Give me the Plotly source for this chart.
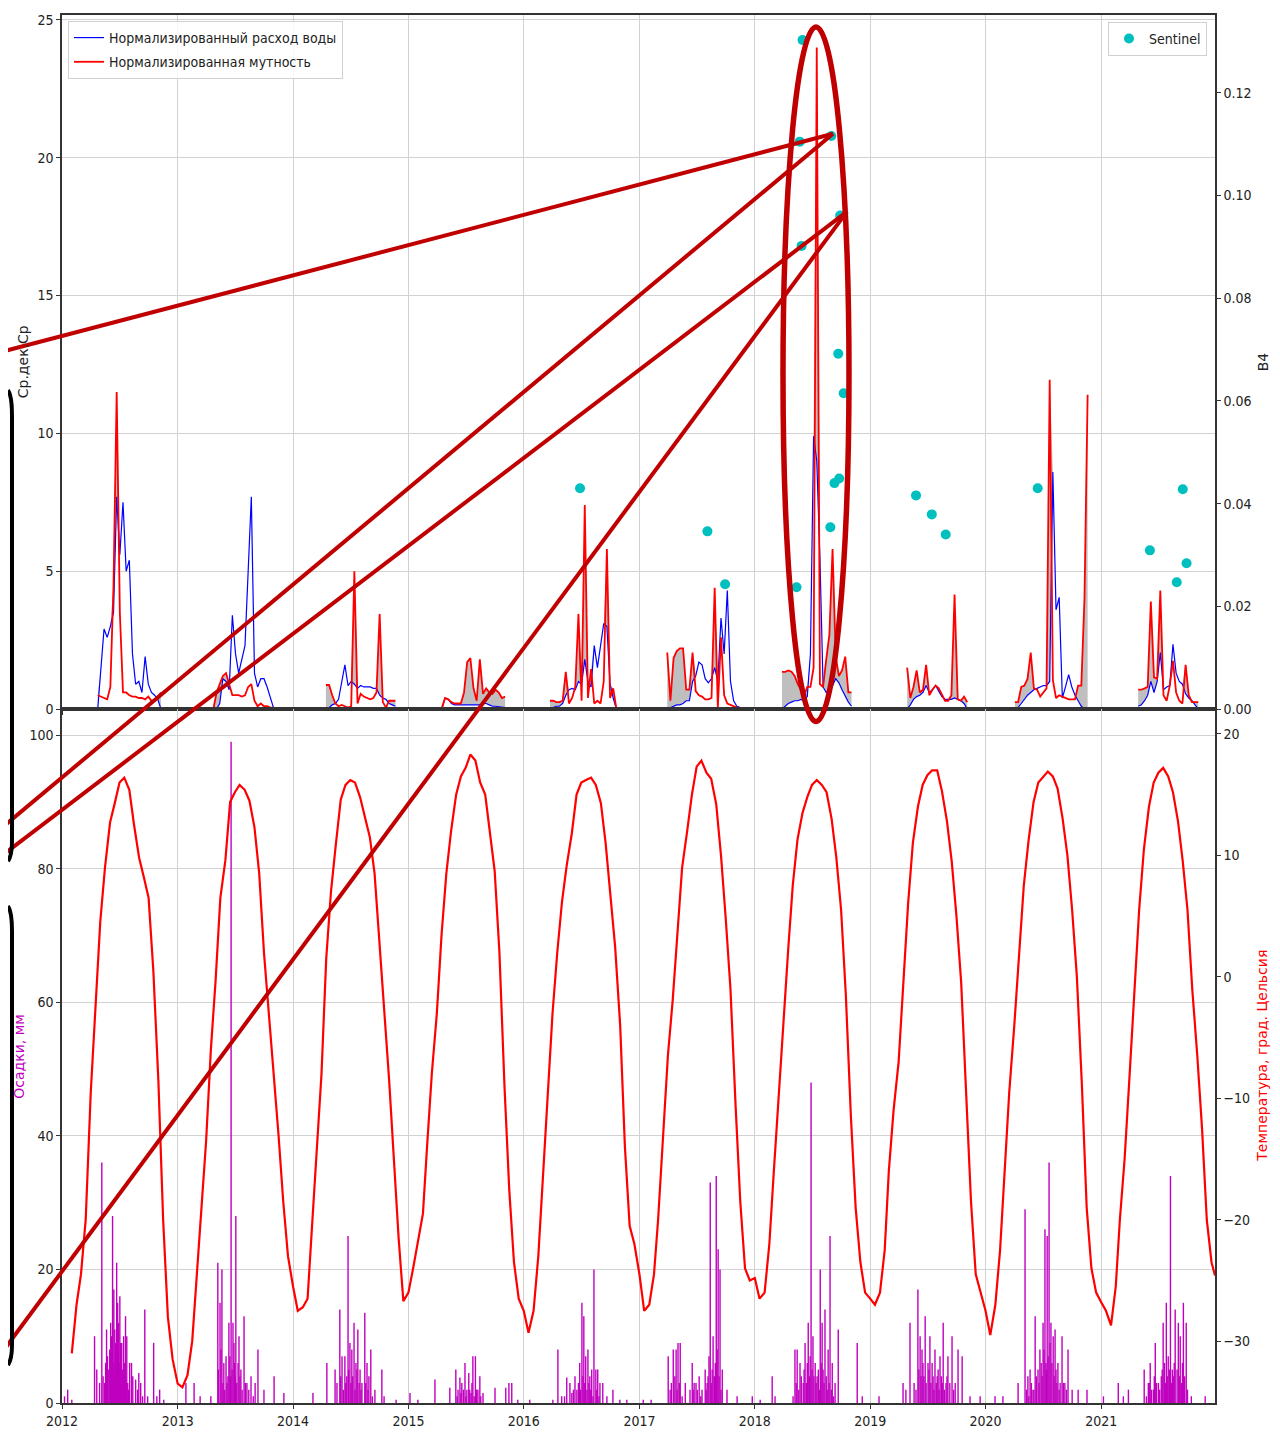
import numpy as np
import pandas as pd
import plotly.graph_objects as go

# ---------------- top panel: normalized discharge (blue) & turbidity (red), 10-day steps
season_start = ["2012-04-23", "2013-04-24", "2014-04-15", "2015-04-17", "2016-03-24",
                "2017-03-30", "2018-03-28", "2019-04-28", "2020-04-03", "2021-04-28"]

flow_2012 = [0.0, 1.5, 2.9, 2.6, 3.0, 3.5, 7.7, 5.6, 7.5, 5.0, 5.4, 2.0, 0.9, 1.0, 0.6, 1.9, 0.9, 0.6, 0.5, 0.35, 0.0]
turb_2012 = [0.5, 0.45, 0.4, 0.35, 0.8, 4.5, 11.5, 3.5, 0.6, 0.6, 0.5, 0.45, 0.45, 0.4, 0.4, 0.35, 0.45, 0.3, 0.3, 0.45, 0.6]
flow_2013 = [0.0, 0.0, 0.2, 1.1, 1.0, 0.7, 3.4, 2.0, 1.3, 1.8, 2.3, 5.0, 7.7, 1.3, 0.8, 1.1, 1.1, 0.8, 0.4, 0.05, 0.0]
turb_2013 = [0.0, 0.6, 0.9, 1.2, 1.3, 0.9, 0.5, 0.5, 0.5, 0.45, 0.5, 0.8, 0.9, 0.3, 0.1, 0.2, 0.1, 0.1, 0.05, 0.05, 0.0]
flow_2014 = [0.0, 0.05, 0.15, 0.2, 0.35, 1.0, 1.6, 0.85, 1.0, 0.9, 0.75, 0.85, 0.8, 0.8, 0.8, 0.75, 0.75, 0.5, 0.4, 0.35, 0.2, 0.15, 0.1]
turb_2014 = [0.87, 0.87, 0.5, 0.2, 0.1, 0.15, 0.1, 0.05, 0.1, 5.0, 0.2, 0.55, 0.45, 0.4, 0.35, 0.4, 0.6, 3.45, 0.25, 0.05, 0.3, 0.3, 0.3]
flow_2015 = [0.0, 0.4, 0.35, 0.2, 0.15, 0.15, 0.15, 0.15, 0.15, 0.15, 0.15, 0.15, 0.15, 0.2, 0.2, 0.15, 0.1, 0.1, 0.08, 0.05, 0.05]
turb_2015 = [0.05, 0.4, 0.35, 0.25, 0.2, 0.2, 0.2, 0.6, 1.7, 1.85, 0.75, 0.3, 1.8, 0.55, 0.75, 0.6, 0.55, 0.7, 0.6, 0.4, 0.45]
flow_2016 = [0.05, 0.05, 0.1, 0.1, 0.2, 0.5, 0.7, 0.75, 0.7, 1.0, 0.9, 1.8, 1.0, 0.8, 2.3, 1.5, 2.3, 3.1, 3.0, 0.9, 0.4, 0.0]
turb_2016 = [0.3, 0.3, 0.25, 0.25, 0.3, 1.35, 0.2, 0.4, 0.8, 3.45, 0.3, 7.4, 0.4, 1.45, 0.2, 0.3, 0.2, 1.0, 5.8, 0.4, 0.75, 0.0]
flow_2017 = [0.0, 0.05, 0.1, 0.15, 0.15, 0.2, 0.3, 0.3, 1.0, 1.2, 1.7, 1.6, 1.1, 0.95, 1.1, 1.5, 1.0, 3.3, 2.0, 4.3, 1.0, 0.3, 0.1, 0.05]
turb_2017 = [2.05, 0.3, 1.85, 2.1, 2.2, 2.2, 0.7, 0.7, 2.05, 0.65, 0.5, 0.45, 0.35, 0.35, 0.4, 4.4, 0.05, 2.6, 0.5, 0.2, 0.15, 0.1, 0.05, 0.05]
flow_2018 = [0.0, 0.1, 0.2, 0.25, 0.3, 0.3, 0.35, 0.3, 0.45, 2.0, 9.9, 9.0, 5.5, 0.8, 0.6, 0.7, 0.85, 1.1, 0.95, 0.7, 0.45, 0.25, 0.1]
turb_2018 = [1.35, 1.35, 1.4, 1.35, 1.2, 0.9, 0.7, 0.5, 0.8, 0.8, 1.5, 24.0, 0.9, 0.8, 1.8, 2.7, 5.8, 1.9, 1.2, 1.4, 1.9, 0.6, 0.6]
flow_2019 = [0.0, 0.15, 0.35, 0.45, 0.5, 0.6, 0.85, 0.6, 0.7, 0.85, 0.65, 0.45, 0.35, 0.35, 0.35, 0.4, 0.35, 0.3, 0.2, 0.0]
turb_2019 = [1.5, 0.4, 0.8, 1.4, 0.6, 0.7, 1.6, 0.5, 0.7, 0.85, 0.75, 0.5, 0.3, 0.3, 0.5, 4.15, 0.35, 0.3, 0.45, 0.25]
flow_2020 = [0.0, 0.05, 0.2, 0.35, 0.5, 0.6, 0.7, 0.75, 0.8, 0.85, 0.85, 1.0, 8.6, 3.6, 4.05, 0.4, 0.8, 1.25, 0.8, 0.5, 0.3, 0.1, 0.0, 0.0]
turb_2020 = [0.25, 0.25, 0.8, 0.85, 1.1, 2.05, 0.75, 0.7, 0.45, 0.6, 0.75, 11.95, 1.05, 0.4, 0.5, 0.45, 0.4, 0.35, 0.35, 0.35, 0.85, 0.85, 4.0, 11.4]
flow_2021 = [0.1, 0.15, 0.3, 0.5, 1.0, 0.6, 1.0, 2.05, 0.7, 0.8, 0.85, 2.35, 1.3, 1.0, 0.9, 0.55, 0.4, 0.3, 0.15, 0.0]
turb_2021 = [0.7, 0.7, 0.75, 0.8, 3.9, 1.15, 1.1, 4.3, 0.5, 0.3, 0.85, 1.75, 0.6, 0.3, 0.2, 1.6, 0.5, 0.25, 0.25, 0.25]

flows = [flow_2012, flow_2013, flow_2014, flow_2015, flow_2016, flow_2017, flow_2018, flow_2019, flow_2020, flow_2021]
turbs = [turb_2012, turb_2013, turb_2014, turb_2015, turb_2016, turb_2017, turb_2018, turb_2019, turb_2020, turb_2021]

# ---------------- Sentinel B4 reflectance
sentinel_dates = ["2016-06-27", "2017-08-04", "2017-09-29", "2018-05-13", "2018-05-23", "2018-05-29",
                  "2018-06-01", "2018-08-28", "2018-08-31", "2018-09-10", "2018-09-22", "2018-09-25",
                  "2018-09-28", "2018-10-09", "2019-05-26", "2019-07-15", "2019-08-28", "2020-06-14",
                  "2021-06-04", "2021-08-28", "2021-09-16", "2021-09-28"]
sentinel_b4 = [0.0430, 0.0346, 0.0243, 0.0237, 0.1105, 0.0902,
               0.1303, 0.0354, 0.1116, 0.0440, 0.0692, 0.0449,
               0.0961, 0.0615, 0.0416, 0.0379, 0.0340, 0.0430,
               0.0309, 0.0247, 0.0428, 0.0284]

# ---------------- temperature (1st and 16th of each month), deg C
t2012 = [-31.0, -27.0, -24.5, -20.0, -9.5, -2.5, 4.5, 9.0, 12.7, 14.3, 16.0, 16.4, 15.4, 12.5, 9.8, 8.2, 6.5, 0.5, -8.6, -20.0, -28.0, -31.5]
t2013 = [-33.5, -33.8, -32.8, -30.0, -25.5, -19.5, -13.5, -6.0, -0.3, 6.5, 9.6, 14.4, 15.2, 15.8, 15.4, 14.5, 12.3, 8.5, 2.0, -2.8, -7.5, -13.0, -18.5, -23.0]
t2014 = [-25.5, -27.5, -27.2, -26.5, -21.0, -15.0, -8.0, 1.5, 7.0, 10.8, 14.6, 15.8, 16.2, 16.0, 14.8, 13.2, 11.5, 8.5, 3.0, -3.0, -8.5, -15.0, -21.5, -26.7]
t2015 = [-26.0, -24.0, -21.5, -19.5, -14.0, -8.0, -3.0, 3.5, 8.5, 12.0, 15.0, 16.5, 17.2, 18.3, 17.8, 16.0, 15.0, 12.0, 8.7, 2.0, -9.0, -17.5, -23.5, -26.5]
t2016 = [-27.5, -29.3, -27.5, -23.0, -17.0, -10.0, -3.0, 2.0, 6.2, 9.2, 11.8, 15.0, 16.0, 16.2, 16.4, 15.8, 14.3, 11.0, 7.0, 2.5, -4.0, -14.0, -20.5, -22.0]
t2017 = [-24.5, -27.5, -27.0, -24.5, -20.0, -13.0, -6.5, -2.0, 3.5, 9.0, 12.0, 15.0, 17.3, 17.8, 16.8, 16.3, 14.2, 10.0, 4.8, -1.0, -10.5, -18.5, -24.0, -25.0]
t2018 = [-24.8, -26.5, -26.0, -22.0, -16.5, -10.5, -3.5, 2.0, 7.5, 11.3, 13.5, 14.8, 15.8, 16.2, 15.8, 15.2, 13.0, 9.8, 5.5, -1.5, -11.5, -19.0, -23.5, -26.0]
t2019 = [-26.5, -27.0, -26.0, -22.5, -16.0, -11.0, -7.0, -0.5, 6.0, 11.0, 14.0, 15.8, 16.6, 17.0, 17.0, 15.3, 12.8, 9.5, 5.0, -0.5, -10.0, -18.5, -24.5, -26.0]
t2020 = [-27.5, -29.5, -27.0, -22.5, -16.0, -9.5, -4.0, 1.5, 7.5, 11.2, 14.4, 16.0, 16.5, 16.9, 16.5, 15.5, 13.0, 10.0, 5.5, 0.0, -9.0, -19.0, -24.0, -26.0]
t2021 = [-26.8, -27.5, -28.7, -25.5, -20.0, -15.0, -8.0, -1.0, 5.5, 10.5, 14.0, 16.0, 16.8, 17.2, 16.5, 15.2, 12.8, 9.5, 5.5, -1.0, -6.5, -12.5, -20.0, -23.5]
temp_end_date, temp_end_value = "2021-12-27", -24.6
temps = [t2012, t2013, t2014, t2015, t2016, t2017, t2018, t2019, t2020, t2021]

# ---------------- precipitation, mm (day of year, amount)
rain_day_2012 = [9, 19, 32, 104, 111, 127, 136, 139, 142, 149, 152, 155, 161, 165, 168, 171, 174, 177, 180, 184, 187, 190, 193, 196, 199, 202, 206, 209, 215, 221, 234, 244, 250, 263, 272, 291, 301, 310, 323,
                 120, 131, 145, 158, 163, 166, 170, 173, 176, 182, 186, 192, 198, 204, 212, 225, 240, 256]
rain_mm_2012 = [1, 2, 0.5, 10, 5, 36, 3, 6, 11, 5, 8, 12, 28, 17, 11, 9, 21, 15, 12, 16, 8, 9, 5, 10, 4, 13, 10, 3, 6, 6, 3.5, 4.5, 3, 14, 1, 9, 1, 2, 0.5,
                3, 4, 7, 10, 6, 4, 7, 5, 3, 6, 9, 4, 6, 3, 2, 4, 2, 1]
rain_day_2013 = [27, 53, 72, 106, 128, 135, 141, 147, 154, 160, 163, 170, 176, 179, 185, 192, 195, 201, 211, 220, 233, 246, 255, 274, 306, 337,
                 130, 138, 144, 150, 157, 166, 168, 173, 181, 183, 188, 198, 205, 215, 226, 240]
rain_mm_2013 = [3, 3, 1, 1, 21, 15, 20, 6, 7, 4, 12, 99, 12, 9, 28, 6, 10, 5, 13, 3, 4, 3, 8, 2, 4, 1.5,
                5, 8, 3, 2, 3, 7, 4, 5, 6, 4, 3, 4, 2, 3, 2, 1]
rain_day_2014 = [64, 108, 134, 149, 156, 165, 171, 175, 181, 187, 194, 200, 206, 213, 219, 228, 235, 241, 247, 260, 282, 289, 327,
                 140, 152, 160, 168, 177, 184, 190, 197, 203, 210, 216, 231, 238, 252]
rain_mm_2014 = [1.5, 6, 5, 14, 7, 7, 4, 25, 9, 8, 12, 6, 11, 5, 3, 13.5, 6, 4, 8, 2, 5, 1, 0.5,
                3, 4, 2, 3, 5, 3, 4, 2, 5, 3, 2, 3, 2, 1]
rain_day_2015 = [6, 31, 85, 132, 151, 158, 164, 170, 180, 186, 192, 199, 205, 213, 221, 227, 237, 275, 309, 319, 328, 347,
                 155, 167, 175, 183, 195, 202, 209, 217, 230]
rain_mm_2015 = [1.5, 0.5, 3.5, 2.3, 5, 2, 3.8, 3, 6, 2, 4.5, 1.5, 7, 7, 2, 4, 1.5, 2.3, 2.3, 3, 3, 0.5,
                1, 1.5, 2, 1, 2, 3, 1, 2, 1]
rain_day_2016 = [20, 93, 109, 121, 137, 147, 153, 163, 169, 178, 185, 191, 197, 204, 210, 216, 223, 229, 235, 242, 251, 264, 283, 305, 327,
                 130, 158, 174, 181, 188, 194, 201, 207, 213, 220, 232, 239]
rain_mm_2016 = [0.5, 0.5, 8, 1, 3.8, 3, 1.5, 4, 2, 6, 15, 13, 7, 8, 4, 5, 20, 5, 5, 3, 3, 1, 2, 0.5, 0.5,
                1, 2, 3, 2, 4, 3, 2, 3, 2, 1, 2, 1]
rain_day_2017 = [13, 38, 92, 98, 108, 117, 123, 130, 146, 161, 168, 174, 180, 190, 199, 209, 215, 221, 225, 234, 244, 250, 256, 263, 278, 310, 358,
                 102, 113, 120, 127, 136, 171, 184, 195, 212, 218, 228, 231, 238, 241, 247, 253, 259]
rain_mm_2017 = [0.5, 0.5, 7, 2, 8, 8, 9, 9, 3, 2, 6, 3, 3, 4, 2, 5, 3, 7, 33, 10, 34, 23, 20, 5, 2, 1, 1,
                3, 4, 2, 3, 1, 2, 2, 1, 2, 4, 3, 5, 4, 6, 8, 4, 2]
rain_day_2018 = [18, 56, 65, 122, 128, 135, 144, 154, 160, 170, 179, 185, 192, 198, 208, 214, 223, 233, 239, 246, 255, 265, 325, 341,
                 132, 140, 148, 157, 164, 167, 174, 176, 182, 188, 195, 202, 205, 211, 217, 220, 227, 230, 236, 243, 250]
rain_mm_2018 = [0.5, 4, 1, 1, 8, 8, 6, 3, 9, 12, 48, 10, 6, 4, 20, 12, 14, 8, 25, 6, 3, 11, 9, 1,
                3, 2, 4, 5, 3, 6, 4, 7, 5, 4, 3, 5, 2, 6, 5, 3, 4, 2, 3, 2, 1]
rain_day_2019 = [29, 105, 114, 127, 140, 152, 159, 165, 171, 175, 184, 190, 200, 206, 216, 222, 232, 241, 247, 260, 270, 279, 292, 317, 349,
                 146, 155, 162, 168, 178, 187, 193, 197, 203, 210, 213, 219, 226, 229, 236, 244, 253, 265]
rain_mm_2019 = [1, 3, 2, 12, 3, 17, 10, 8, 4, 13, 6, 10, 4, 8, 5, 7, 12, 3, 7, 10, 3, 8, 7, 1, 1,
                2, 5, 4, 6, 3, 5, 3, 6, 2, 3, 4, 2, 4, 3, 2, 4, 3, 2]
rain_day_2020 = [31, 56, 104, 126, 135, 142, 151, 158, 167, 173, 183, 189, 196, 202, 208, 215, 221, 230, 237, 243, 252, 262, 275, 294, 322,
                 131, 138, 146, 154, 162, 170, 177, 180, 186, 192, 194, 199, 205, 211, 218, 224, 227, 234, 247, 257]
rain_mm_2020 = [1, 1, 3, 29, 4, 5, 2, 13, 5, 8, 12, 26, 25, 36, 12, 10, 11, 6, 3, 10, 3, 8, 2, 2, 2,
                2, 1, 3, 2, 4, 3, 6, 4, 8, 6, 5, 7, 9, 6, 4, 5, 3, 2, 3, 2]
rain_day_2021 = [8, 55, 71, 87, 137, 150, 156, 166, 172, 182, 191, 197, 207, 213, 220, 226, 235, 245, 251, 261, 270, 286, 330,
                 144, 153, 160, 169, 176, 186, 194, 201, 204, 210, 217, 223, 229, 232, 241, 248, 255, 258, 265, 274]
rain_mm_2021 = [1, 3, 1, 2, 5, 3, 6, 2, 9, 3, 4, 12, 15, 7, 34, 5, 14, 12, 10, 15, 12, 1, 1,
                1, 3, 2, 4, 3, 2, 5, 6, 3, 4, 5, 3, 4, 6, 5, 4, 3, 6, 4, 2]

rain_days = [rain_day_2012, rain_day_2013, rain_day_2014, rain_day_2015, rain_day_2016,
             rain_day_2017, rain_day_2018, rain_day_2019, rain_day_2020, rain_day_2021]
rain_mms = [rain_mm_2012, rain_mm_2013, rain_mm_2014, rain_mm_2015, rain_mm_2016,
            rain_mm_2017, rain_mm_2018, rain_mm_2019, rain_mm_2020, rain_mm_2021]
years = list(range(2012, 2022))

# ---------------- styling
OFF = 8                       # default page (body) margin of the html page
W, H = 1280 - OFF, 1440 - OFF
ML, MR, MT, MB = 62 - OFF, 65, 12 - OFF, 37
PLOT_W, PLOT_H = W - ML - MR, H - MT - MB
FONT = "DejaVu Sans Condensed, Liberation Sans Narrow, DejaVu Sans, sans-serif"
BLUE, RED, CYAN, MAG, GREY = "#0000ff", "#ff0000", "#00bfbf", "#bf00bf", "#bfbfbf"
ANN_RED = "#c00000"
XR = ["2012-01-01", "2021-12-27"]


def P(px, py):
    """screen pixel -> paper coordinates (for overlay drawings only)"""
    return (px - OFF - ML) / PLOT_W, (OFF + H - MB - py) / PLOT_H


fig = go.Figure()

# grey fill where turbidity exceeds discharge
for start, fl, tb in zip(season_start, flows, turbs):
    d = pd.date_range(start, periods=len(fl), freq="10D")
    upper = np.maximum(np.array(tb), np.array(fl))
    fig.add_trace(go.Scatter(x=d, y=fl, mode="lines", line=dict(width=0, color=GREY),
                             showlegend=False, hoverinfo="skip", xaxis="x", yaxis="y"))
    fig.add_trace(go.Scatter(x=d, y=upper, mode="lines", line=dict(width=0, color=GREY),
                             fill="tonexty", fillcolor=GREY, showlegend=False,
                             hoverinfo="skip", xaxis="x", yaxis="y"))

for i, (start, fl) in enumerate(zip(season_start, flows)):
    d = pd.date_range(start, periods=len(fl), freq="10D")
    fig.add_trace(go.Scatter(x=d, y=fl, mode="lines", line=dict(color=BLUE, width=1.2),
                             name="Нормализированный расход воды", legendgroup="flow",
                             showlegend=(i == 0), legend="legend", xaxis="x", yaxis="y"))
for i, (start, tb) in enumerate(zip(season_start, turbs)):
    d = pd.date_range(start, periods=len(tb), freq="10D")
    fig.add_trace(go.Scatter(x=d, y=tb, mode="lines", line=dict(color=RED, width=1.8),
                             name="Нормализированная мутность", legendgroup="turb",
                             showlegend=(i == 0), legend="legend", xaxis="x", yaxis="y"))

fig.add_trace(go.Scatter(x=pd.to_datetime(sentinel_dates), y=sentinel_b4, mode="markers",
                         marker=dict(color=CYAN, size=10), name="Sentinel",
                         legend="legend2", xaxis="x", yaxis="y3"))

# precipitation as thin vertical bars
bx, by = [], []
for y, days, mms in zip(years, rain_days, rain_mms):
    for dd, mm in zip(days, mms):
        t = pd.Timestamp(y, 1, 1) + pd.Timedelta(days=dd - 1)
        bx += [t, t, None]
        by += [0, mm, None]
fig.add_trace(go.Scatter(x=bx, y=by, mode="lines", line=dict(color=MAG, width=1.4),
                         showlegend=False, hoverinfo="skip", xaxis="x2", yaxis="y2"))

# temperature
tx, ty = [], []
for y, vals in zip(years, temps):
    grid = [pd.Timestamp(y, m, dd) for m in range(1, 13) for dd in (1, 16)]
    grid = grid[-len(vals):]
    tx += grid
    ty += vals
tx.append(pd.Timestamp(temp_end_date))
ty.append(temp_end_value)
fig.add_trace(go.Scatter(x=tx, y=ty, mode="lines", line=dict(color=RED, width=2.2),
                         showlegend=False, xaxis="x2", yaxis="y4"))

axis_common = dict(showline=True, linecolor="#333333", linewidth=1.5, ticks="outside",
                   ticklen=4, tickcolor="#333333", zeroline=False,
                   tickfont=dict(family=FONT, size=14, color="#222222"))
xcommon = dict(axis_common, range=XR, dtick="M12", tick0="2012-01-01", showgrid=True,
               gridcolor="#d2d2d2", gridwidth=1, mirror=True)

fig.update_layout(
    width=W, height=H, margin=dict(l=ML, r=MR, t=MT, b=MB),
    paper_bgcolor="white", plot_bgcolor="white",
    font=dict(family=FONT, size=14, color="#222222"),
    xaxis=dict(xcommon, domain=[0, 1], anchor="y", showticklabels=False, matches="x2"),
    yaxis=dict(axis_common, domain=[0.5, 1], range=[0, 25.18], dtick=5, tick0=0,
               showgrid=True, gridcolor="#d2d2d2", mirror=True),
    yaxis3=dict(axis_common, overlaying="y", side="right", anchor="x", range=[0, 0.13517],
                dtick=0.02, tick0=0, tickformat=".2f", showgrid=False),
    xaxis2=dict(xcommon, domain=[0, 1], anchor="y2", tickformat="%Y"),
    yaxis2=dict(axis_common, domain=[0, 0.5], range=[0, 103.9], dtick=20, tick0=0,
                showgrid=True, gridcolor="#d2d2d2", mirror=True),
    yaxis4=dict(axis_common, overlaying="y2", side="right", anchor="x2",
                range=[-35.09, 22.05], dtick=10, tick0=0, showgrid=False),
    legend=dict(x=P(68, 0)[0], y=P(0, 18)[1], xanchor="left", yanchor="top",
                bgcolor="rgba(255,255,255,0.85)", bordercolor="#d0d0d0", borderwidth=1,
                font=dict(family=FONT, size=14, color="#222222"), tracegroupgap=3),
    legend2=dict(x=P(1207, 0)[0], y=P(0, 19)[1], xanchor="right", yanchor="top",
                 bgcolor="rgba(255,255,255,0.85)", bordercolor="#d0d0d0", borderwidth=1,
                 font=dict(family=FONT, size=14, color="#222222")),
    showlegend=True,
)

# axis titles
titles = [("Ср.дек.Ср", 23, 360, "#222222"), ("B4", 1263, 360, "#222222"),
          ("Осадки, мм", 19, 1055, MAG), ("Температура, град. Цельсия", 1262, 1055, RED)]
for txt, px, py, col in titles:
    x, y = P(px, py)
    fig.add_annotation(text=txt, x=x, y=y, xref="paper", yref="paper", showarrow=False,
                       textangle=-90, xanchor="center", yanchor="middle",
                       font=dict(family="DejaVu Sans, sans-serif", size=14, color=col))

# hand-drawn overlay: ellipse and pointer lines
x0, y1 = P(783, 24)
x1, y0 = P(849, 720)
fig.add_shape(type="circle", xref="paper", yref="paper", x0=x0, x1=x1, y0=y0, y1=y1,
              line=dict(color=ANN_RED, width=5.5), layer="above")
for (a, b), (c, d) in [((0, 350), (833, 131)), ((0, 828), (833, 131)),
                       ((0, 856), (847, 209)), ((0, 1355), (847, 209))]:
    xa, ya = P(a, b)
    xc, yc = P(c, d)
    fig.add_shape(type="line", xref="paper", yref="paper", x0=xa, y0=ya, x1=xc, y1=yc,
                  line=dict(color=ANN_RED, width=4), layer="above")


def path(pts):
    s = ""
    for cmd, pp in pts:
        coords = " ".join("%.5f,%.5f" % P(*q) for q in pp)
        s += cmd + " " + coords + " "
    return s.strip()


# black bracket strokes at the very left edge of the figure
for top, bot in [(388, 860), (905, 1365)]:
    pth = path([("M", [(OFF, top)]), ("Q", [(OFF + 4, top + 6), (OFF + 4, top + 25)]),
                ("L", [(OFF + 4, bot - 20)]), ("Q", [(OFF + 4, bot - 6), (OFF, bot)])])
    fig.add_shape(type="path", xref="paper", yref="paper", path=pth,
                  line=dict(color="black", width=4), layer="above")

fig.write_html("out.html")
